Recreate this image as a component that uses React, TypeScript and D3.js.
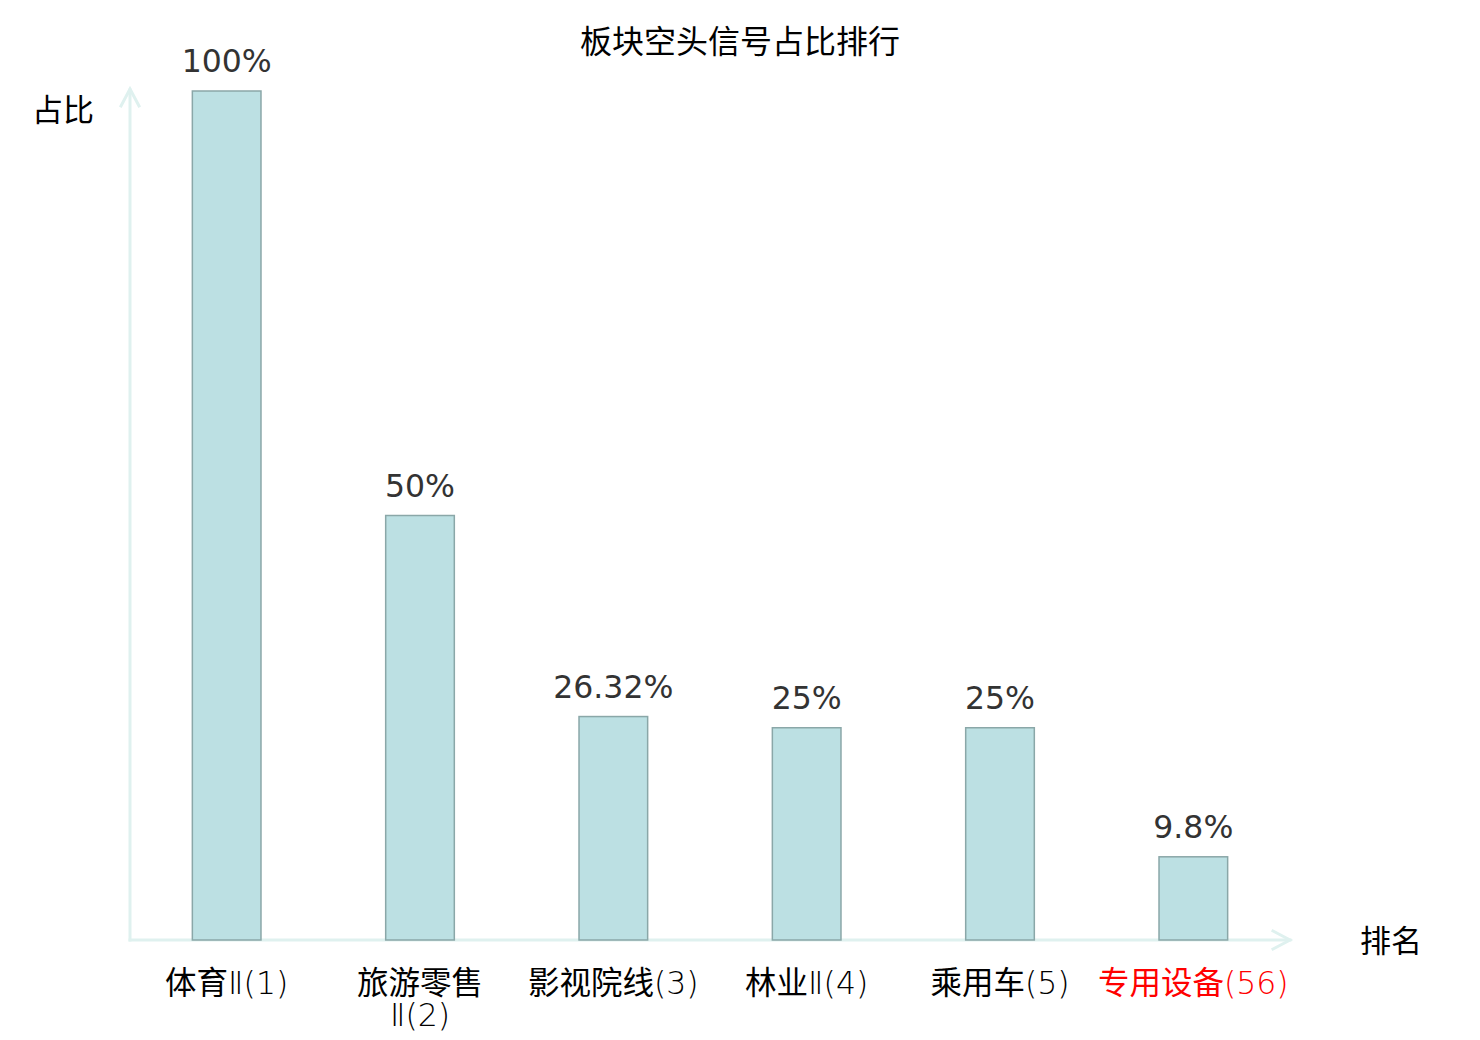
import React from "react";
import * as d3 from "d3";

const categories = ["体育Ⅱ(1)", "旅游零售Ⅱ(2)", "影视院线(3)", "林业Ⅱ(4)", "乘用车(5)", "专用设备(56)"];
const categoryLines = [["体育Ⅱ(1)"], ["旅游零售", "Ⅱ(2)"], ["影视院线(3)"], ["林业Ⅱ(4)"], ["乘用车(5)"], ["专用设备(56)"]];
const values = [100, 50, 26.32, 25, 25, 9.8];
const valueLabels = ["100%", "50%", "26.32%", "25%", "25%", "9.8%"];
const highlight = [false, false, false, false, false, true];

const W = 1480;
const H = 1040;
const left = 130;
const right = 1290;
const bottom = 940;
const top = 91;

const CJK = '"Noto Sans CJK SC", "Noto Sans", sans-serif';

// split a label into CJK runs and latin runs so the latin bits get the thin face
const runs = (s: string) => {
  const out: { t: string; cjk: boolean }[] = [];
  for (const ch of s) {
    const cjk = /[\u4e00-\u9fff]/.test(ch);
    const last = out[out.length - 1];
    if (last && last.cjk === cjk) last.t += ch;
    else out.push({ t: ch, cjk });
  }
  return out;
};

const App = () => {
  const x = d3.scaleBand<string>().domain(categories).range([left, right]).paddingInner(0).paddingOuter(0);
  const y = d3.scaleLinear().domain([0, 100]).range([bottom, top]);
  const bw = x.bandwidth() * 0.355;
  const axisColor = "#dff1ef";

  return (
    <svg width={W} height={H} viewBox={`0 0 ${W} ${H}`} style={{ position: "absolute", left: 0, top: 0, background: "#fff" }}>
      <text x={740} y={53} textAnchor="middle" fontSize={32} fontFamily={CJK} fill="#000">
        板块空头信号占比排行
      </text>

      {/* axes */}
      <g stroke={axisColor} strokeWidth={3} fill="none" strokeLinecap="square">
        <line x1={left} y1={bottom} x2={left} y2={90} />
        <polyline points={`${left - 9},${106} ${left},${89} ${left + 9},${106}`} />
        <line x1={left} y1={bottom} x2={right} y2={bottom} />
        <polyline points={`${right - 17},${931} ${right},${bottom} ${right - 17},${949}`} />
      </g>
      <text x={63} y={121} textAnchor="middle" fontSize={31} fontFamily={CJK} fill="#000">占比</text>
      <text x={1391} y={952} textAnchor="middle" fontSize={31} fontFamily={CJK} fill="#000">排名</text>

      {/* bars */}
      {categories.map((c, i) => {
        const cx = x(c)! + x.bandwidth() / 2;
        return (
          <g key={c}>
            <rect
              x={cx - bw / 2}
              y={y(values[i])}
              width={bw}
              height={bottom - y(values[i])}
              fill="#bce0e3"
              stroke="#8aa7a8"
              strokeWidth={1.5}
            />
            <text
              x={cx}
              y={y(values[i]) - 19}
              textAnchor="middle"
              fontSize={31.5}
              fontFamily='"DejaVu Sans", sans-serif'
              fill="#333"
            >
              {valueLabels[i]}
            </text>
            {categoryLines[i].map((ln, j) => (
              <text
                key={j}
                x={cx}
                y={994 + j * 32}
                textAnchor="middle"
                fontSize={31.5}
                fill={highlight[i] ? "#ff0000" : "#000"}
              >
                {runs(ln).map((r, k) => (
                  <tspan
                    key={k}
                    fontFamily={r.cjk ? CJK : '"DejaVu Sans", sans-serif'}
                    fontWeight={r.cjk ? 400 : 200}
                  >
                    {r.t}
                  </tspan>
                ))}
              </text>
            ))}
          </g>
        );
      })}
    </svg>
  );
};

export default App;
